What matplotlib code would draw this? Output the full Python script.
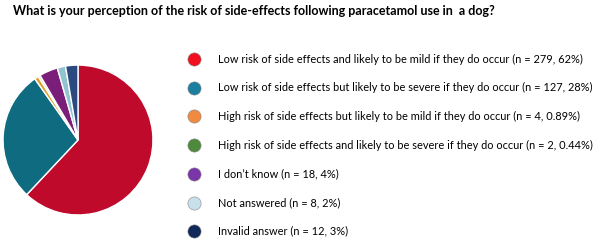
import matplotlib.pyplot as plt

# data
labels = [
    "Low risk of side effects and likely to be mild if they do occur (n = 279, 62%)",
    "Low risk of side effects but likely to be severe if they do occur (n = 127, 28%)",
    "High risk of side effects but likely to be mild if they do occur (n = 4, 0.89%)",
    "High risk of side effects and likely to be severe if they do occur (n = 2, 0.44%)",
    "I don\u2019t know (n = 18, 4%)",
    "Not answered (n = 8, 2%)",
    "Invalid answer (n = 12, 3%)",
]
counts = [279, 127, 4, 2, 18, 8, 12]
pie_colors = ['#c00a2c', '#0f6c80', '#e0a030', '#c8d8b8', '#7b1e7a', '#92c4cf', '#2a4a80']
legend_colors = ['#f01020', '#1a7fa0', '#f08a40', '#4e8a3c', '#7a35a8', '#c8e0ec', '#10285a']

plt.rcParams['font.family'] = ['Lato', 'DejaVu Sans']

fig = plt.figure(figsize=(6, 2.41), dpi=100)

fig.text(0.022, 0.955, "What is your perception of the risk of side-effects following paracetamol use in  a dog?",
         fontsize=9.0, fontweight='bold', va='center', ha='left')

ax = fig.add_axes([0.005, 0.108, 0.25, 0.622])
ax.pie(counts, colors=pie_colors, startangle=90, counterclock=False,
       wedgeprops=dict(edgecolor='white', linewidth=1))
ax.set_xlim(-1, 1)
ax.set_ylim(-1, 1)
ax.set_aspect('equal')
ax.axis('off')

# legend drawn at fixed rows
lax = fig.add_axes([0, 0, 1, 1])
lax.set_xlim(0, 600)
lax.set_ylim(241, 0)
lax.axis('off')
for i, (lab, c) in enumerate(zip(labels, legend_colors)):
    y = 59 + i * 28.7
    lax.plot(194, y, 'o', markersize=9.5, color=c, markeredgecolor='#888888', markeredgewidth=0.4)
    lax.text(218, y, lab, fontsize=7.9, va='center', ha='left', color='black')

fig.savefig('out.png', dpi=100)
